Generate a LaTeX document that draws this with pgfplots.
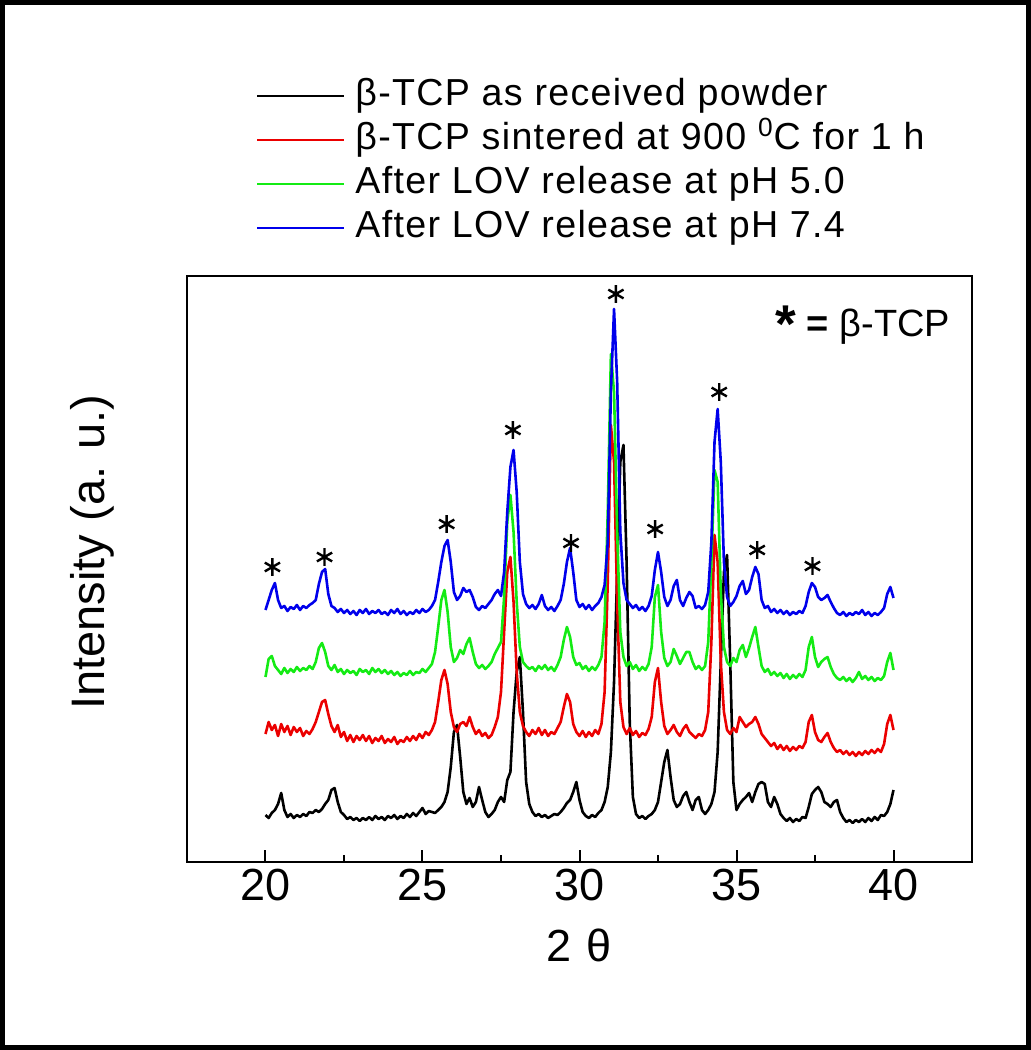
\documentclass[border=0pt]{standalone}
\usepackage{fontspec}
\setmainfont{Liberation Sans}
\newfontfamily\legfont[LetterSpace=3.5]{Liberation Sans}
\usepackage{graphicx}
\usepackage{pgfplots}
\usepackage{pgfplotstable}
\pgfplotsset{compat=1.18}
\definecolor{cred}{RGB}{235,0,0}
\definecolor{cgreen}{RGB}{20,235,20}
\definecolor{cblue}{RGB}{0,0,235}

\pgfplotstableread{
x k r g b
20.0 47 128 185 252
20.1 44 140 203 262
20.2 49 132 206 272
20.3 52 137 196 279
20.4 58 126 192 262
20.5 69 138 188 254
20.6 52 130 194 256
20.7 45 136 189 251
20.8 48 127 193 255
20.9 44 135 190 253
21.0 47 130 195 257
21.1 45 134 191 252
21.2 48 126 194 256
21.3 46 131 192 254
21.4 50 128 196 257
21.5 49 133 193 259
21.6 52 140 200 262
21.7 50 150 214 278
21.8 53 160 219 290
21.9 58 162 210 293
22.0 62 148 196 268
22.1 72 136 192 256
22.2 74 130 197 254
22.3 60 137 190 250
22.4 50 125 193 253
22.5 47 130 188 249
22.6 43 121 192 252
22.7 45 127 189 248
22.8 42 120 191 251
22.9 44 126 187 247
23.0 41 122 193 252
23.1 44 127 190 249
23.2 42 121 192 253
23.3 45 126 188 248
23.4 42 119 194 251
23.5 46 124 190 249
23.6 43 121 193 252
23.7 45 126 189 248
23.8 42 119 192 250
23.9 46 123 188 247
24.0 44 120 191 252
24.1 47 125 187 249
24.2 43 118 190 253
24.3 46 122 186 248
24.4 44 120 189 251
24.5 48 125 187 247
24.6 45 121 191 250
24.7 49 126 187 248
24.8 46 122 190 252
24.9 50 128 189 249
25.0 54 124 193 253
25.1 48 130 190 250
25.2 51 127 194 252
25.3 50 132 198 256
25.4 49 140 210 262
25.5 52 160 235 280
25.6 55 182 262 300
25.7 60 192 272 316
25.8 70 178 250 322
25.9 95 150 215 300
26.0 130 135 200 270
26.1 137 130 204 262
26.2 105 138 212 266
26.3 70 140 208 274
26.4 58 136 218 270
26.5 64 145 224 272
26.6 55 135 210 265
26.7 60 128 198 255
26.8 75 132 194 252
26.9 62 126 197 256
27.0 50 129 193 254
27.1 45 124 196 258
27.2 48 127 200 262
27.3 52 135 208 268
27.4 60 145 214 272
27.5 65 170 220 266
27.6 60 230 265 290
27.7 82 290 340 350
27.8 90 305 367 395
27.9 150 260 330 412
28.0 190 190 260 370
28.1 205 150 215 300
28.2 150 136 200 268
28.3 80 130 196 258
28.4 58 126 193 254
28.5 50 132 195 257
28.6 46 128 191 253
28.7 48 134 196 258
28.8 45 127 193 267
28.9 47 132 197 256
29.0 44 126 192 252
29.1 46 130 195 255
29.2 48 128 191 251
29.3 47 134 197 256
29.4 50 140 205 262
29.5 54 155 222 278
29.6 59 168 235 300
29.7 62 160 225 314
29.8 70 138 205 290
29.9 80 130 197 262
30.0 62 126 199 255
30.1 50 131 193 258
30.2 46 125 196 253
30.3 44 130 191 257
30.4 47 126 195 252
30.5 45 132 192 256
30.6 49 128 197 259
30.7 52 138 205 265
30.8 60 170 240 277
30.9 75 280 350 320
31.0 110 437 508 470
31.1 180 400 470 553
31.2 290 260 330 480
31.3 400 160 230 330
31.4 417 135 205 279
31.5 300 128 196 262
31.6 140 134 200 258
31.7 65 127 193 254
31.8 48 131 197 257
31.9 44 125 191 252
32.0 46 129 195 255
32.1 43 127 192 251
32.2 46 133 198 256
32.3 48 145 215 266
32.4 52 180 265 292
32.5 60 194 277 310
32.6 80 160 230 290
32.7 100 136 204 265
32.8 112 128 196 256
32.9 85 132 200 262
33.0 62 137 213 276
33.1 55 130 206 282
33.2 58 126 198 262
33.3 66 133 204 256
33.4 70 137 210 264
33.5 60 130 210 270
33.6 52 127 200 266
33.7 62 124 193 254
33.8 65 128 196 256
33.9 52 126 192 253
34.0 48 132 196 257
34.1 52 150 220 270
34.2 58 220 300 320
34.3 70 327 392 420
34.4 110 300 380 453
34.5 200 200 270 400
34.6 290 150 215 300
34.7 307 132 200 265
34.8 200 128 196 256
34.9 80 134 204 260
35.0 52 130 200 266
35.1 58 145 212 276
35.2 62 140 217 281
35.3 65 135 205 268
35.4 69 138 214 272
35.5 60 140 225 285
35.6 70 145 235 295
35.7 78 138 215 288
35.8 80 128 196 262
35.9 78 124 190 254
36.0 60 120 193 256
36.1 55 116 187 250
36.2 65 119 190 253
36.3 58 113 186 249
36.4 48 117 189 252
36.5 44 112 184 248
36.6 41 116 188 251
36.7 44 111 183 247
36.8 40 115 187 250
36.9 43 112 184 248
37.0 41 116 188 251
37.1 45 114 185 249
37.2 44 120 192 256
37.3 55 140 215 270
37.4 68 147 225 279
37.5 72 130 205 275
37.6 75 122 195 265
37.7 70 120 200 262
37.8 60 125 203 264
37.9 58 129 205 267
38.0 55 120 195 260
38.1 60 114 188 254
38.2 62 110 184 249
38.3 50 112 182 247
38.4 44 108 185 250
38.5 40 111 181 246
38.6 42 107 184 249
38.7 39 110 180 247
38.8 42 106 184 250
38.9 40 110 190 248
39.0 43 107 183 252
39.1 40 111 186 247
39.2 44 108 182 250
39.3 41 112 185 246
39.4 45 109 181 249
39.5 42 113 184 247
39.6 47 110 182 250
39.7 46 118 186 254
39.8 50 138 200 268
39.9 58 147 209 275
40.0 72 132 192 264
}\xrd

\begin{document}
\begin{tikzpicture}
\useasboundingbox (-93.5pt,-94pt) rectangle (422pt,431pt);
\begin{axis}[
  at={(0pt,0pt)}, anchor=south west,
  scale only axis, width=392.5pt, height=293pt,
  xmin=17.5, xmax=42.5, ymin=0, ymax=586,
  xtick={20,25,30,35,40}, minor x tick num=1,
  ytick=\empty,
  xtick pos=lower,
  tick align=inside,
  major tick length=6pt, minor tick length=3.5pt,
  axis line style={line width=1.2pt},
  every tick/.style={line width=1pt, black},
  tick label style={font=\fontsize{22.5}{26}\selectfont},
  /pgf/number format/assume math mode=true,
  xlabel={2\,\,θ},
  xlabel style={font=\fontsize{22.5}{26}\selectfont, at={(axis description cs:0.5,-0.1416)}, anchor=center},
  ylabel={Intensity (a. u.)},
  ylabel style={font=\fontsize{23.5}{28}\selectfont, at={(axis description cs:-0.12,0.529)}, anchor=center},
  legend style={draw=none, fill=none, at={(0.0879,1.343)}, anchor=north west,
    font=\legfont\fontsize{18.8}{22}\selectfont, inner sep=0pt, row sep=1pt,
    nodes={inner sep=1pt, text height=14pt, text depth=5pt},
    /tikz/every odd column/.append style={column sep=4pt}},
  legend cell align=left,
  legend image code/.code={\draw[#1, line width=1pt] (0pt,0pt) -- (43.5pt,0pt);},
  every axis plot/.append style={line width=1.3pt, line join=round},
]
\addplot[black, mark=none] table[x=x,y=k]{\xrd};
\addlegendentry{β-TCP as received powder}
\addplot[cred, mark=none] table[x=x,y=r]{\xrd};
\addlegendentry{β-TCP sintered at 900 \textsuperscript{0}C for 1 h}
\addplot[cgreen, mark=none] table[x=x,y=g]{\xrd};
\addlegendentry{After LOV release at pH 5.0}
\addplot[cblue, mark=none] table[x=x,y=b]{\xrd};
\addlegendentry{After LOV release at pH 7.4}
\addplot[black, only marks, mark=asterisk, mark size=4.4pt, line width=1.2pt, forget plot] coordinates {
 (20.22,295) (21.88,305) (25.77,338) (27.88,432) (29.73,319)
 (31.16,568) (32.41,333) (34.45,470) (35.66,312) (37.42,296)};
\node[font=\fontsize{19}{22}\selectfont, anchor=center] at (rel axis cs:0.861,0.916)
  {{\bfseries\raisebox{-0.3ex}{\scalebox{1.4}{*}} =} β-TCP};
\end{axis}
\draw[line width=2.5pt] (-92.25pt,-92.75pt) rectangle (420.75pt,429.75pt);
\end{tikzpicture}
\end{document}
